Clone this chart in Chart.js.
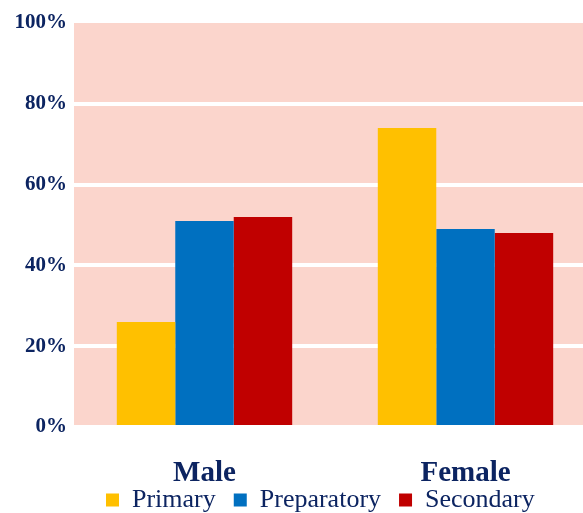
<!DOCTYPE html>
<html>
<head>
<meta charset="utf-8">
<script src="https://cdn.jsdelivr.net/npm/chart.js@4.4.0/dist/chart.umd.min.js"></script>
<style>
  html, body { margin: 0; padding: 0; background: #fff; overflow: hidden; }
  #wrap { width: 596px; height: 513px; }
</style>
</head>
<body>
<div id="wrap"><canvas id="chart" width="596" height="513"></canvas></div>
<script>
const categories = ['Male', 'Female'];
const primary = [26, 74];
const preparatory = [51, 49];
const secondary = [52, 48];
const seriesNames = ['Primary', 'Preparatory', 'Secondary'];
const yTicks = [0, 20, 40, 60, 80, 100];

const navy = '#0c2461';
const serif = '"Liberation Serif", "Times New Roman", serif';

// pink plot background
const plotBg = {
    id: 'plotBg',
    beforeDraw(chart) {
        const { ctx, chartArea: a } = chart;
        ctx.save();
        ctx.fillStyle = '#fbd5cc';
        ctx.fillRect(a.left, a.top, a.right - a.left, a.bottom - a.top);
        ctx.restore();
    }
};

// legend sits lower and a bit right in the original; x labels need room below the axis
const legendShift = {
    id: 'legendShift',
    afterLayout(chart) {
        const lg = chart.legend;
        if (!lg || !lg.lineWidths) return;
        const pad = lg.options.labels.padding;
        const startX = (lg.left + pad + lg.right - lg.lineWidths[0]) / 2;
        const dx = 106 - startX;
        const dy = 500 - (lg.top + pad + 13);
        lg.left += dx; lg.right += dx;
        lg.top += dy; lg.bottom += dy;

        const x = chart.scales.x;
        x.bottom = chart.height;
        x.height = x.bottom - x.top;
    }
};

new Chart(document.getElementById('chart'), {
    type: 'bar',
    data: {
        labels: categories,
        datasets: [
            { label: seriesNames[0], data: primary, backgroundColor: '#ffc000' },
            { label: seriesNames[1], data: preparatory, backgroundColor: '#0070c0' },
            { label: seriesNames[2], data: secondary, backgroundColor: '#c00000' }
        ]
    },
    options: {
        responsive: false,
        animation: false,
        layout: { padding: { top: 23, left: 0, right: 0, bottom: 0 } },
        datasets: { bar: { barPercentage: 1, categoryPercentage: 0.672 } },
        scales: {
            x: {
                grid: { display: false },
                border: { display: false },
                ticks: {
                    color: navy,
                    padding: 21,
                    autoSkip: false,
                    maxRotation: 0,
                    font: { family: serif, size: 29, weight: 'bold' }
                },
                afterFit: (s) => {
                    const lh = (s.chart.legend && s.chart.legend.height) || 0;
                    s.height = Math.max(14, 86 - lh);
                }
            },
            y: {
                min: 0,
                max: 100,
                afterBuildTicks: (s) => { s.ticks = yTicks.map(v => ({ value: v })); },
                afterFit: (s) => { s.width = 74; },
                border: { display: false },
                grid: {
                    color: (c) => c.tick && c.tick.value === 100 ? 'rgba(0,0,0,0)' : '#ffffff',
                    lineWidth: 4,
                    drawTicks: false
                },
                ticks: {
                    color: navy,
                    padding: 7,
                    callback: (v) => v + '%',
                    font: { family: serif, size: 21, weight: 'bold' }
                }
            }
        },
        plugins: {
            legend: {
                position: 'bottom',
                labels: {
                    color: navy,
                    boxWidth: 13,
                    boxHeight: 13,
                    padding: 18,
                    font: { family: serif, size: 26 }
                }
            },
            tooltip: { enabled: false }
        }
    },
    plugins: [plotBg, legendShift]
});
</script>
</body>
</html>
